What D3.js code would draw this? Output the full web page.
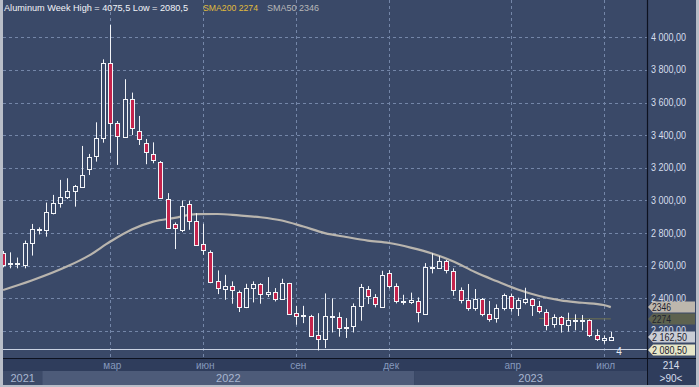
<!DOCTYPE html>
<html>
<head>
<meta charset="utf-8">
<script src="https://cdn.jsdelivr.net/npm/d3@7/dist/d3.min.js"></script>
<style>
  body { margin: 0; background: #b9bec8; }
  svg { display: block; font-family: "Liberation Sans", Arial, sans-serif; }
</style>
</head>
<body>
<div id="chart"></div>
<script>
// weekly candles, week index 0 = 22 Nov 2021 ... 85 = 10 Jul 2023
const open  = [2675,2610,2612,2600,2737,2818,2815,2927,2987,3023,3060,3085,3197,3269,3381,3841,3473,3387,3620,3426,
               3350,3283,3236,3010,2855,2820,2978,2875,2732,2687,2504,2457,2477,2438,2346,2463,2487,2426,2438,2395,
               2493,2309,2291,2293,2177,2150,2285,2287,2220,2232,2353,2455,2410,2349,2555,2475,2383,2379,2381,2308,
               2590,2586,2627,2565,2451,2390,2341,2396,2306,2277,2339,2414,2339,2378,2394,2353,2318,2241,2286,2237,
               2265,2266,2265,2175,2145,2145];
const high  = [2690,2682,2650,2754,2856,2835,2987,3034,3126,3136,3095,3334,3285,3479,3865,4075.5,3487,3743,3661,3518,
               3377,3356,3242,3045,2865,3000,2998,2922,2857,2694,2571,2544,2504,2448,2489,2504,2493,2530,2463,2520,
               2495,2354,2354,2299,2309,2430,2400,2314,2279,2369,2488,2475,2426,2569,2573,2492,2422,2435,2406,2616,
               2676,2659,2635,2584,2467,2488,2457,2402,2384,2363,2429,2429,2404,2465,2400,2384,2333,2302,2292,2312,
               2302,2298,2271,2210,2173,2194];
const low   = [2590,2584,2584,2584,2662,2792,2778,2915,2956,3009,2962,3080,3156,3238,3354,3293,3218,3385,3401,3340,
               3222,3228,3009,2826,2702,2806,2820,2722,2667,2493,2426,2391,2367,2316,2340,2375,2367,2408,2381,2391,
               2299,2238,2248,2166,2080.5,2095,2191,2165,2157,2191,2263,2365,2345,2341,2461,2369,2361,2365,2253,2304,
               2553,2584,2553,2416,2369,2324,2324,2290,2257,2251,2326,2318,2292,2363,2292,2308,2204,2220,2190,2196,
               2204,2204,2163,2139,2122,2143];
const close = [2600,2618,2616,2737,2823,2824,2927,2987,3023,3060,3089,3156,3269,3381,3841,3473,3391,3620,3442,3374,
               3295,3248,3017,2835,2830,2969,2871,2728,2694,2504,2459,2477,2452,2346,2463,2487,2428,2438,2395,2493,
               2305,2289,2295,2173,2150,2294,2290,2218,2224,2353,2467,2414,2365,2543,2475,2381,2386,2392,2312,2594,
               2595,2627,2573,2451,2390,2341,2396,2303,2277,2339,2418,2339,2390,2394,2359,2322,2241,2286,2241,2265,
               2268,2268,2175,2153,2159,2162.5];

// SMA50 read every 3 weeks
const smaWeek = [0,4,9,12,15,18,21,24,27,30,33,36,39,42,45,48,51,54,57,60,63,66,69,72,75,78,81,84,85];
const sma50   = [2451,2509,2596,2662,2748,2822,2870,2893,2916,2917,2908,2897,2877,2840,2800,2776,2754,2739,2711,2675,
                 2626,2561,2506,2454,2414,2387,2373,2359,2346];
// SMA200 only shows at the end
const sma200Week = [75,80,85];
const sma200     = [2276,2275,2274];

const yTicks = [2200,2400,2600,2800,3000,3200,3400,3600,3800,4000];
const monthWeek  = [15,28,41,54,71,84];
const monthLabel = ["мар","июн","сен","дек","апр","июл"];
const yearStart  = [-1,6,58];   // first week of each year band
const yearLabel  = ["2021","2022","2023"];

const W = 699, H = 387;
const plot = {left: 3, right: 647, top: 0, bottom: 358};

const svg = d3.select("#chart").append("svg")
    .attr("width", W).attr("height", H);

svg.append("rect").attr("x", 3).attr("y", 0).attr("width", 693).attr("height", 385)
    .attr("fill", "#3a4968");

let x = d3.scaleLinear().domain([15, 85]).range([110.3, 610.8]);
let y = d3.scaleLinear().domain([2000, 4000]).range([363.6, 37.3]);

svg.append("clipPath").attr("id", "clip")
    .append("rect").attr("x", plot.left).attr("y", 0)
    .attr("width", plot.right - plot.left).attr("height", plot.bottom);

// grid
svg.append("g").selectAll("line").data(yTicks).enter().append("line")
    .attr("x1", plot.left).attr("x2", plot.right)
    .attr("y1", d => Math.round(y(d)) + 0.5).attr("y2", d => Math.round(y(d)) + 0.5)
    .attr("stroke", "#7486a8").attr("stroke-dasharray", "3,3");

svg.append("g").selectAll("line").data(monthWeek).enter().append("line")
    .attr("x1", d => Math.round(x(d)) + 0.5).attr("x2", d => Math.round(x(d)) + 0.5)
    .attr("y1", 0).attr("y2", plot.bottom)
    .attr("stroke", "#7486a8").attr("stroke-dasharray", "3,3");

// low line
svg.append("line")
    .attr("x1", plot.left).attr("x2", plot.right)
    .attr("y1", Math.round(y(2080.5)) - 0.5).attr("y2", Math.round(y(2080.5)) - 0.5)
    .attr("stroke", "#c9d2e2").attr("stroke-width", 1);

const g = svg.append("g").attr("clip-path", "url(#clip)");

// SMA lines
g.append("path")
    .datum(smaWeek.map((w, i) => [w, sma50[i]]))
    .attr("fill", "none")
    .attr("stroke", "#b9b5ae")
    .attr("stroke-width", 2.2)
    .attr("d", d3.line().curve(d3.curveMonotoneX)
        .x(d => x(d[0]))
        .y(d => y(d[1])));

g.append("path")
    .datum(sma200Week.map((w, i) => [w, sma200[i]]))
    .attr("fill", "none")
    .attr("stroke", "#6e7150")
    .attr("stroke-width", 1)
    .attr("d", d3.line()
        .x(d => x(d[0]))
        .y(d => y(d[1])));

// candles
const candles = g.append("g").selectAll("g").data(open.map((o, i) => i)).enter().append("g");

candles.append("line")
    .attr("x1", i => Math.round(x(i)) + 0.5).attr("x2", i => Math.round(x(i)) + 0.5)
    .attr("y1", i => y(high[i])).attr("y2", i => y(low[i]))
    .attr("stroke", "#f2f4f8").attr("stroke-width", 1);

candles.append("rect")
    .attr("x", i => Math.round(x(i)) - 1.5)
    .attr("width", 4)
    .attr("y", i => Math.round(y(Math.max(open[i], close[i]))) + 0.5)
    .attr("height", i => Math.max(1, Math.round(Math.abs(y(open[i]) - y(close[i])))))
    .attr("fill", i => close[i] < open[i] ? "#c4234c" : "#3a4968")
    .attr("stroke", "#f2f4f8").attr("stroke-width", 1);

// right axis panel
svg.append("line").attr("x1", 647.5).attr("x2", 647.5).attr("y1", 0).attr("y2", 385)
    .attr("stroke", "#0d1220").attr("stroke-width", 1.2);

const fmt = v => d3.format(",.2f")(v).replace(",", " ").replace(".", ",");
svg.append("g").selectAll("text").data(yTicks).enter().append("text")
    .attr("x", 651).attr("y", d => y(d) + 3.5)
    .attr("fill", "#d6deec").attr("font-size", 10)
    .attr("textLength", 35).attr("lengthAdjust", "spacingAndGlyphs")
    .text(d => fmt(d));

// price tags
const tagVal  = [2346, 2274, 2162.5, 2080.5];
const tagText = ["2346", "2274", "2 162,50", "2 080,50"];
const tagFill = ["#bdb7ad", "#5d624f", "#c9cdd5", "#e6e6c8"];
const tags = svg.append("g").selectAll("g").data(tagVal).enter().append("g")
    .attr("transform", d => `translate(648,${Math.round(y(d))})`);
tags.append("path")
    .attr("d", "M0,0 L5,-5.5 L47,-5.5 L47,5.5 L5,5.5 Z")
    .attr("fill", (d, i) => tagFill[i]);
tags.append("text").attr("x", 4).attr("y", 4)
    .attr("font-size", 10).attr("fill", "#1d2230")
    .attr("textLength", (d, i) => tagText[i].length > 4 ? 35 : 19)
    .attr("lengthAdjust", "spacingAndGlyphs")
    .text((d, i) => tagText[i]);

svg.append("text").attr("x", 619).attr("y", 355).attr("text-anchor", "middle")
    .attr("font-size", 10).attr("fill", "#e8ecf4").text("4");

// bottom axis
svg.append("rect").attr("x", 3).attr("y", plot.bottom).attr("width", 644).attr("height", 27)
    .attr("fill", "#2f3d5c");
svg.append("line").attr("x1", 3).attr("x2", 696).attr("y1", plot.bottom + 0.5).attr("y2", plot.bottom + 0.5)
    .attr("stroke", "#0d1220");

const bandX = yearStart.map(w => Math.max(plot.left, x(w - 0.5)));
bandX.push(plot.right);
svg.append("g").selectAll("rect").data(yearLabel).enter().append("rect")
    .attr("x", (d, i) => bandX[i]).attr("y", 371)
    .attr("width", (d, i) => bandX[i + 1] - bandX[i]).attr("height", 14)
    .attr("fill", (d, i) => i === 1 ? "#4d5b79" : "#3c4a68");
svg.append("g").selectAll("text").data(yearLabel).enter().append("text")
    .attr("x", (d, i) => (bandX[i] + bandX[i + 1]) / 2).attr("y", 382)
    .attr("text-anchor", "middle").attr("font-size", 11).attr("fill", "#a8b6d0")
    .text(d => d);

svg.append("g").selectAll("text").data(monthWeek).enter().append("text")
    .attr("x", d => x(d) + 2).attr("y", 369)
    .attr("text-anchor", "middle").attr("font-size", 10).attr("fill", "#8699bd")
    .text((d, i) => monthLabel[i]);

svg.append("rect").attr("x", 648).attr("y", plot.bottom + 1).attr("width", 48).attr("height", 26)
    .attr("fill", "#2f3d5c");
svg.append("text").attr("x", 671).attr("y", 369).attr("text-anchor", "middle")
    .attr("font-size", 10).attr("fill", "#d6deec").text("214");
svg.append("text").attr("x", 671).attr("y", 382).attr("text-anchor", "middle")
    .attr("font-size", 10).attr("fill", "#d6deec").text(">90<");

// title
const titles = [
    {t: "Aluminum Week High = 4075,5 Low = 2080,5", x: 4, w: 184, c: "#f2f4f8"},
    {t: "SMA200 2274", x: 203, w: 55, c: "#e0bb3c"},
    {t: "SMA50 2346", x: 267, w: 52, c: "#b8b8b8"}
];
svg.append("g").selectAll("text").data(titles).enter().append("text")
    .attr("x", d => d.x).attr("y", 11).attr("font-size", 9.5)
    .attr("textLength", d => d.w).attr("lengthAdjust", "spacingAndGlyphs")
    .attr("fill", d => d.c)
    .text(d => d.t);
</script>
</body>
</html>
